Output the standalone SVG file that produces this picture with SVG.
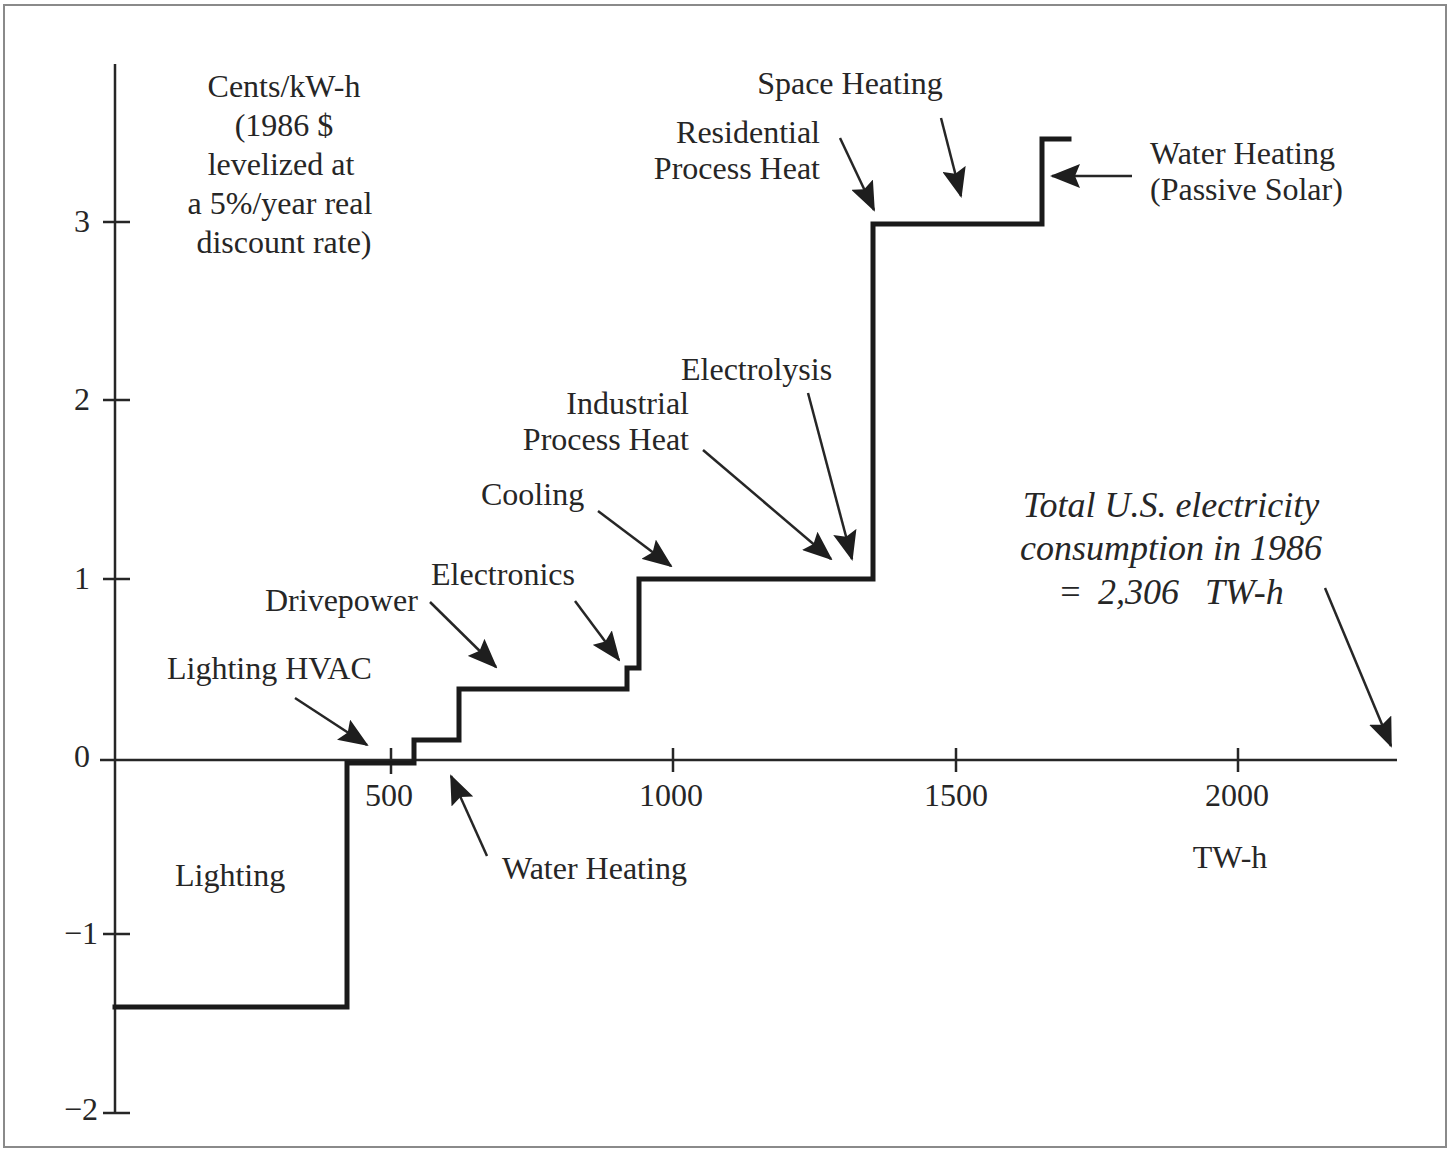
<svg xmlns="http://www.w3.org/2000/svg" width="1454" height="1149" viewBox="0 0 1454 1149">
<style>
text{font-family:"Liberation Serif","Times New Roman",serif;fill:#262626;font-size:32px}
.it{font-style:italic;font-size:36px}
.mid{text-anchor:middle}
.end{text-anchor:end}
.ax{stroke:#262626;stroke-width:2.5;fill:none}
.step{stroke:#1a1a1a;stroke-width:5;fill:none;stroke-linejoin:miter;stroke-linecap:square}
.arr{stroke:#262626;stroke-width:2.5;fill:none;marker-end:url(#ah)}
</style>
<defs>
<marker id="ah" markerUnits="userSpaceOnUse" markerWidth="30" markerHeight="24" viewBox="0 0 30 24" refX="28" refY="12" orient="auto">
<path d="M0,0 L30,12 L0,24 L5,12 Z" fill="#1e1e1e"/>
</marker>
</defs>
<rect x="0" y="0" width="1454" height="1149" fill="#fff"/>
<rect x="4" y="5" width="1442" height="1142" fill="none" stroke="#8a8a8a" stroke-width="2"/>
<g id="axes">
<line class="ax" x1="115" y1="64" x2="115" y2="1114"/>
<line class="ax" x1="100" y1="760" x2="1397" y2="760"/>
<path class="ax" d="M103,222H130M103,400H130M103,579H130M103,934H130M103,1113H130M391,748V774M673,748V772M956,748V772M1238,748V772"/>
<text x="90" y="232" class="end">3</text>
<text x="90" y="410" class="end">2</text>
<text x="90" y="589" class="end">1</text>
<text x="90" y="767" class="end">0</text>
<text x="98" y="944" class="end">−1</text>
<text x="98" y="1120" class="end">−2</text>
<text x="389" y="806" class="mid">500</text>
<text x="671" y="806" class="mid">1000</text>
<text x="956" y="806" class="mid">1500</text>
<text x="1237" y="806" class="mid">2000</text>
<text x="1230" y="868" class="mid">TW-h</text>
<text class="mid" x="284"><tspan x="284" y="97">Cents/kW-h</tspan><tspan x="284" y="136">(1986 $</tspan><tspan x="281" y="175">levelized at</tspan><tspan x="280" y="214">a 5%/year real</tspan><tspan x="284" y="253">discount rate)</tspan></text>
</g>
<g id="curve">
<path class="step" d="M115,1007 H347 V763 H414 V740 H459 V689 H627 V668 H639 V579 H873 V224 H1042 V139 H1069"/>
</g>
<g id="connectors">
<line class="arr" x1="295" y1="698" x2="367" y2="745"/>
<line class="arr" x1="430" y1="602" x2="496" y2="667"/>
<line class="arr" x1="575" y1="601" x2="619" y2="660"/>
<line class="arr" x1="598" y1="511" x2="671" y2="566"/>
<line class="arr" x1="703" y1="450" x2="831" y2="559"/>
<line class="arr" x1="808" y1="393" x2="852" y2="559"/>
<line class="arr" x1="840" y1="138" x2="874" y2="210"/>
<line class="arr" x1="941" y1="118" x2="961" y2="196"/>
<line class="arr" x1="1132" y1="176" x2="1052" y2="176"/>
<line class="arr" x1="487" y1="856" x2="451" y2="776"/>
<line class="arr" x1="1325" y1="588" x2="1391" y2="746"/>
</g>
<g id="label-space-heating"><text x="850" y="94" class="mid">Space Heating</text></g>
<g id="label-residential"><text class="end"><tspan x="820" y="143">Residential</tspan><tspan x="820" y="179">Process Heat</tspan></text></g>
<g id="label-water-passive"><text><tspan x="1150" y="164">Water Heating</tspan><tspan x="1150" y="200">(Passive Solar)</tspan></text></g>
<g id="label-electrolysis"><text x="681" y="380">Electrolysis</text></g>
<g id="label-industrial"><text class="end"><tspan x="689" y="414">Industrial</tspan><tspan x="689" y="450">Process Heat</tspan></text></g>
<g id="label-cooling"><text x="481" y="505">Cooling</text></g>
<g id="label-electronics"><text x="431" y="585">Electronics</text></g>
<g id="label-drivepower"><text x="265" y="611">Drivepower</text></g>
<g id="label-lighting-hvac"><text x="167" y="679">Lighting HVAC</text></g>
<g id="label-lighting"><text x="175" y="886">Lighting</text></g>
<g id="label-water-heating"><text x="502" y="879">Water Heating</text></g>
<g id="label-total">
<text class="it mid"><tspan x="1171" y="517">Total U.S. electricity</tspan><tspan x="1171" y="560">consumption in 1986</tspan></text>
<text class="it"><tspan x="1058" y="604">=</tspan><tspan x="1098" y="604">2,306</tspan><tspan x="1205" y="604">TW-h</tspan></text>
</g>
</svg>
